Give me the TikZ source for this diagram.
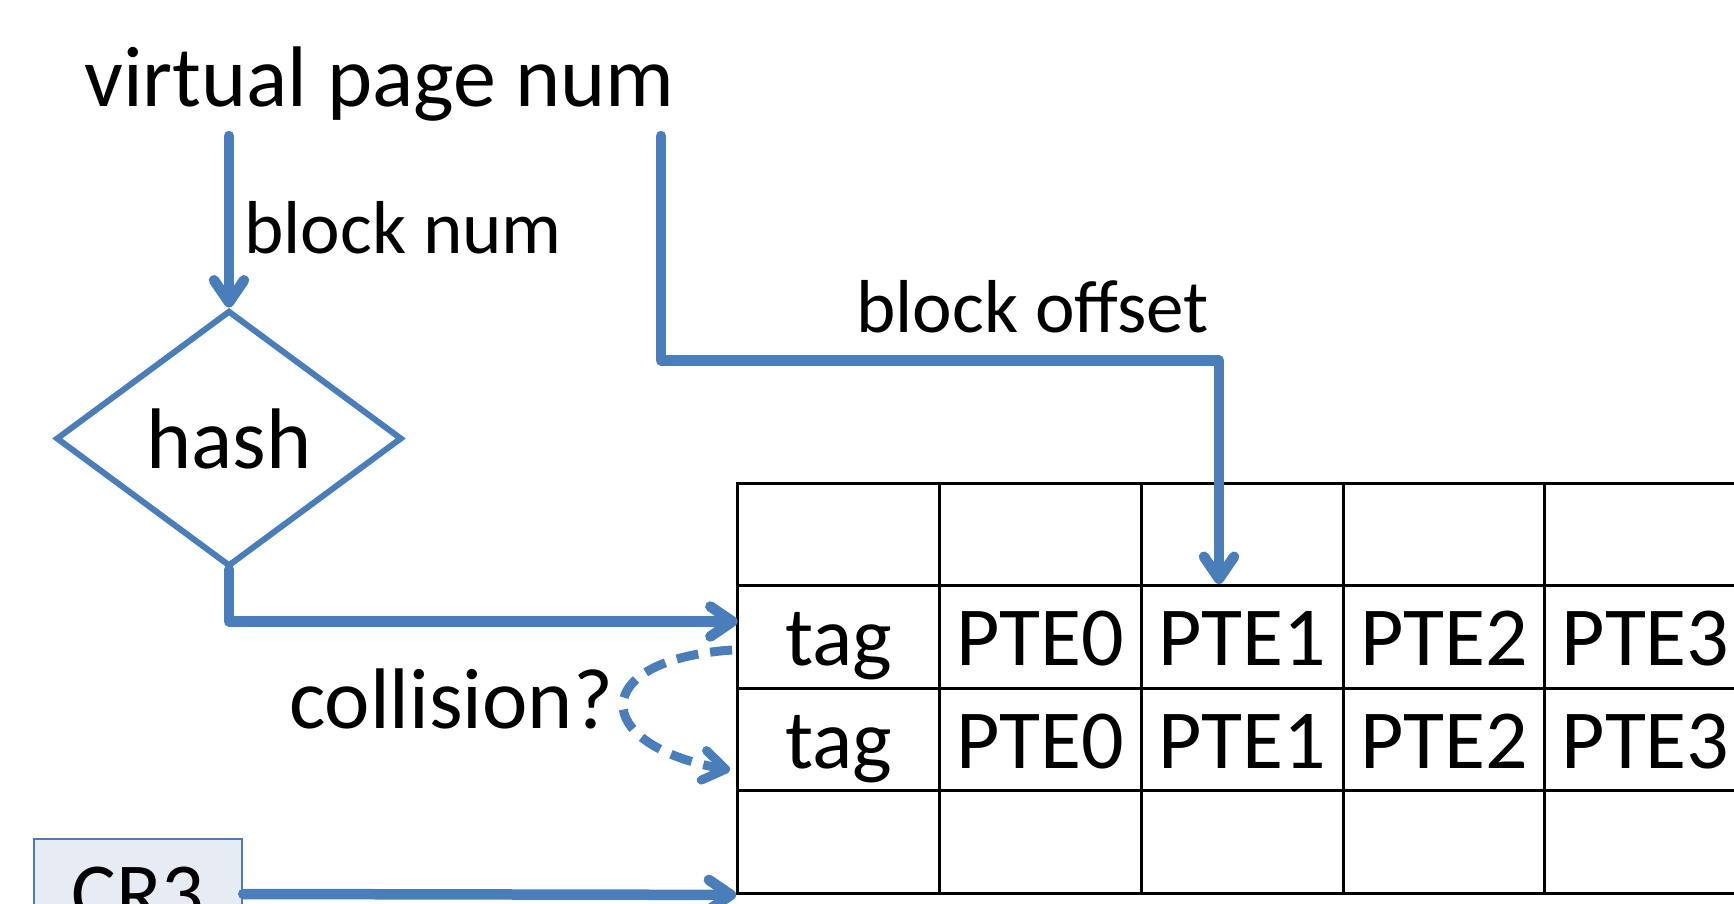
\documentclass[tikz,border=0pt]{standalone}
\usepackage{fontspec}
\setmainfont{Carlito}
\usetikzlibrary{arrows.meta,shapes.geometric}
\definecolor{linkblue}{HTML}{4A7EBB}
\definecolor{regfill}{HTML}{E7ECF4}
\begin{document}
\begin{tikzpicture}[x=1pt,y=-1pt,
  font=\fontsize{84}{100}\selectfont,
  lbl/.style={inner sep=0pt, anchor=base west},
  big/.style={font=\fontsize{86}{100}\selectfont},
  small/.style={font=\fontsize{75}{90}\selectfont},
  conn/.style={draw=linkblue, line width=10.5pt, line join=round, line cap=round,
               -{Straight Barb[length=22pt,width=30pt,round]}},
  cell/.style={draw=black, line width=3pt, minimum width=201.8pt, minimum height=102.6pt,
               inner sep=0pt, text height=58pt, text depth=0pt},
  hashbox/.style={diamond, draw=linkblue, line width=6pt, minimum width=346pt,
                  minimum height=256pt, inner sep=0pt},
  regbox/.style={draw=linkblue, line width=2.5pt, fill=regfill, minimum width=208pt,
                 minimum height=110pt, inner sep=0pt, text height=54pt, text depth=0pt}]
\clip (0,0) rectangle (1734,904);
\fill[white] (0,0) rectangle (1734,904);

% hashed page table: four rows of five cells
\foreach \r in {1,...,4}
  \foreach \c in {1,...,5}
    \node[cell] (r\r-\c) at ({737.6+201.8*(\c-0.5)},{483+102.6*(\r-0.5)}) {};
\foreach \r in {2,3}
  \foreach \c/\t in {1/tag,2/PTE0,3/PTE1,4/PTE2,5/PTE3}
    \node[inner sep=0pt, text height=58pt, text depth=0pt] (t\r-\c) at (r\r-\c.center) {\t};

% address and hash function
\node[lbl, big] (vpn) at (84,107) {virtual page num};
\coordinate (vpnL) at (229,136);
\coordinate (vpnR) at (661,136);
\node[hashbox, big] (hash) at (229,438.5) {hash};
\node[lbl, small] (bnum) at (244,253) {block num};
\node[lbl, small] (boff) at (856,332) {block offset};
\node[lbl, big] (coll) at (289,728) {collision?};
\node[regbox] (cr3) at (138,894) {CR3};

\coordinate (tagin) at (737.6,621.5);
\coordinate (bend) at (661,360.5);
\coordinate (ptein) at (1219,584);
\coordinate (collA) at (732,650);
\coordinate (collB) at (730,770);

% connectors
\draw[conn] (vpnL) -- (hash.north);
\draw[conn] (hash.south) |- (tagin);
\draw[conn] (vpnR) -- (bend) -| (ptein);
\draw[conn, dash pattern=on 22pt off 12pt, line width=9pt, line cap=butt]
  (collA) .. controls (587,660) and (590,745) .. (collB);
\draw[conn] (cr3.east) -- (r4-1.south west);
\end{tikzpicture}
\end{document}
